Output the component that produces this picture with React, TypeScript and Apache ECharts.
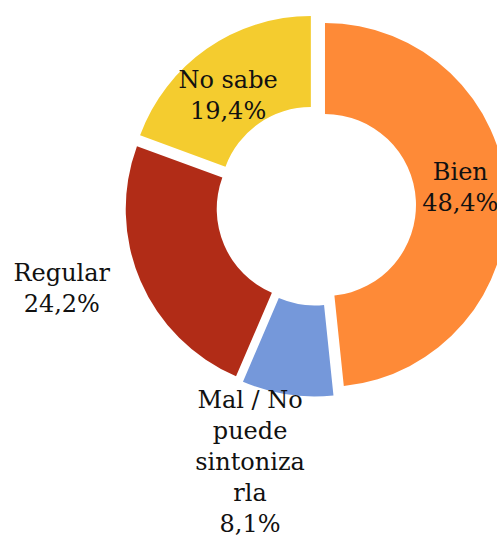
import React, { useEffect, useRef } from "react";
import * as echarts from "echarts";

const categories = ["Bien", "Mal / No puede sintonizarla", "Regular", "No sabe"];
const values = [48.4, 8.1, 24.2, 19.4];
const labelNames = ["Bien", "Mal / No\npuede\nsintoniza\nrla", "Regular", "No sabe"];
const colors = ["#FE8A37", "#7598DA", "#B12C17", "#F4CC2F"];

export default function App() {
  const ref = useRef<HTMLDivElement>(null);
  useEffect(() => {
    if (!ref.current) return;
    const chart = echarts.init(ref.current, undefined, { renderer: "svg" });
    chart.setOption({
      animation: false,
      backgroundColor: "#ffffff",
      series: [
        {
          type: "pie",
          center: [316, 205.5],
          radius: [91, 182],
          startAngle: 90,
          clockwise: true,
          selectedMode: "multiple",
          selectedOffset: 9,
          avoidLabelOverlap: false,
          emphasis: { disabled: true },
          labelLine: { show: false },
          label: {
            fontFamily: "DejaVu Serif",
            fontSize: 24,
            lineHeight: 31,
            color: "#111111",
            align: "center",
            formatter: (p: any) =>
              `${labelNames[p.dataIndex]}\n${values[p.dataIndex].toFixed(1).replace(".", ",")}%`,
          },
          labelLayout: (p: any) => {
            if (p.dataIndex === 1) return { dx: 0, dy: 53, align: "center" };
            if (p.dataIndex === 2) return { dx: -30, dy: 2, align: "center" };
            if (p.dataIndex === 0) return { dx: -4, dy: -10 };
            if (p.dataIndex === 3) return { dx: -3, dy: 12 };
            return {};
          },
          data: categories.map((c, i) => ({
            name: c,
            value: values[i],
            selected: true,
            itemStyle: { color: colors[i] },
            label: { position: i === 0 || i === 3 ? "inside" : "outside" },
          })),
        },
      ],
    });
    return () => chart.dispose();
  }, []);
  return (
    <div
      ref={ref}
      style={{ position: "fixed", left: 0, top: 0, width: 497, height: 540 }}
    />
  );
}
